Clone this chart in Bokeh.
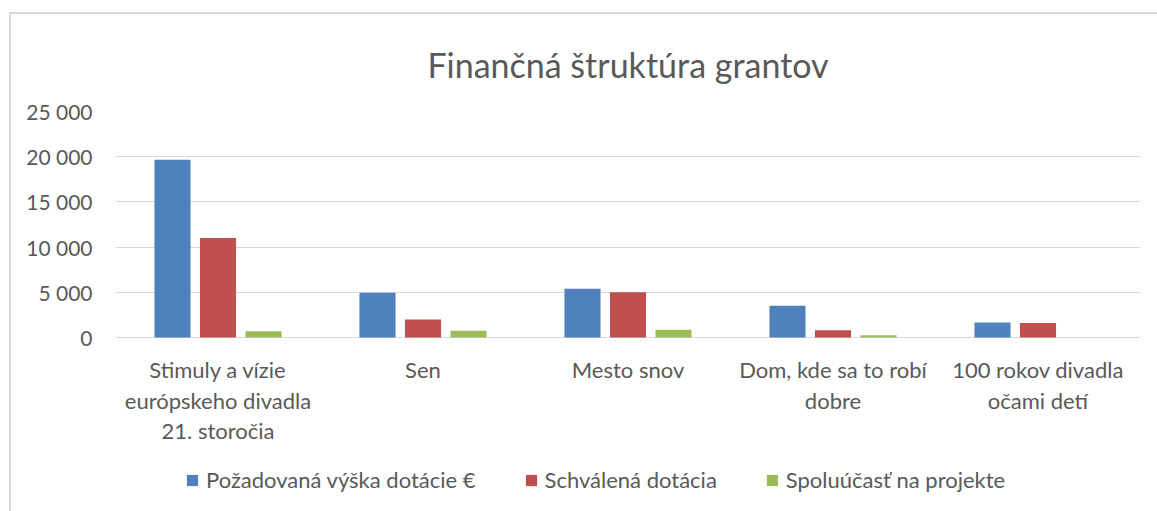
from bokeh.plotting import figure
from bokeh.models import ColumnDataSource, FactorRange, Legend, LegendItem, FixedTicker, Range1d
from bokeh.core.properties import value
from bokeh.transform import dodge
from bokeh.embed import file_html
from bokeh.resources import INLINE

categories = [
    "Stimuly a vízie\neurópskeho divadla\n21. storočia",
    "Sen",
    "Mesto snov",
    "Dom, kde sa to robí\ndobre",
    "100 rokov divadla\nočami detí",
]
requested = [19650, 4950, 5400, 3500, 1650]
approved = [11000, 2000, 5000, 800, 1600]
cofunding = [700, 750, 850, 250, 0]
series_names = ["Požadovaná výška dotácie €", "Schválená dotácia", "Spoluúčasť na projekte"]
colors = ["#4F81BD", "#C0504D", "#9BBB59"]
y_ticks = [0, 5000, 10000, 15000, 20000, 25000]
y_tick_labels = ["0", "5 000", "10 000", "15 000", "20 000", "25 000"]

FONT = "Lato"
TXT = "#595959"

src = ColumnDataSource(dict(cat=categories, requested=requested, approved=approved, cofunding=cofunding))

# frame extends below the value axis so that category labels and legend live inside it
Y_MAX = 25000
Y_MIN = Y_MAX - 400 * Y_MAX / 226

p = figure(
    x_range=FactorRange(factors=categories),
    y_range=Range1d(Y_MIN, Y_MAX),
    frame_width=1025, frame_height=400,
    output_backend="svg", toolbar_location=None,
    min_border_left=104, min_border_right=17, min_border_top=97, min_border_bottom=0,
    title="Finančná štruktúra grantov",
)
p.margin = (12, 0, 0, 9)
p.styles = {"border-top": "2px solid #d9d9d9", "border-left": "2px solid #d9d9d9"}

p.title.align = "center"
p.title.text_font = FONT
p.title.text_font_size = "34px"
p.title.text_font_style = "normal"
p.title.text_color = TXT
p.title.standoff = 54

fields = ["requested", "approved", "cofunding"]
offsets = [-0.222, 0.0, 0.222]
renderers = []
for f, off, c in zip(fields, offsets, colors):
    r = p.vbar(x=dodge("cat", off, range=p.x_range), top=f, width=0.176, source=src,
               fill_color=c, line_color=None)
    renderers.append(r)

# category labels
p.text(x="cat", y=-2100, text="cat", source=src,
       text_font=value(FONT), text_font_size="22px", text_color=TXT,
       text_align="center", text_baseline="top", text_line_height=1.12)

p.outline_line_color = None
p.xgrid.grid_line_color = None
p.ygrid.ticker = FixedTicker(ticks=y_ticks)
p.ygrid.grid_line_color = "#d9d9d9"
p.ygrid.grid_line_width = 1.2
p.xaxis.visible = False

p.yaxis.ticker = FixedTicker(ticks=y_ticks)
p.yaxis.major_label_overrides = {t: l for t, l in zip(y_ticks, y_tick_labels)}
p.yaxis.axis_line_color = None
p.yaxis.major_tick_line_color = None
p.yaxis.minor_tick_line_color = None
p.yaxis.major_label_text_font = FONT
p.yaxis.major_label_text_font_size = "21px"
p.yaxis.major_label_text_color = TXT
p.yaxis.major_label_standoff = 17

legend = Legend(
    items=[LegendItem(label=n, renderers=[r]) for n, r in zip(series_names, renderers)],
    orientation="horizontal", location=(70, 18),
    label_text_font=FONT, label_text_font_size="22px", label_text_color=TXT,
    glyph_width=14, glyph_height=14, label_standoff=7, spacing=48,
    border_line_color=None, background_fill_alpha=0, padding=0, margin=0,
)
p.add_layout(legend, "center")

open("out.html", "w").write(file_html(p, INLINE))
